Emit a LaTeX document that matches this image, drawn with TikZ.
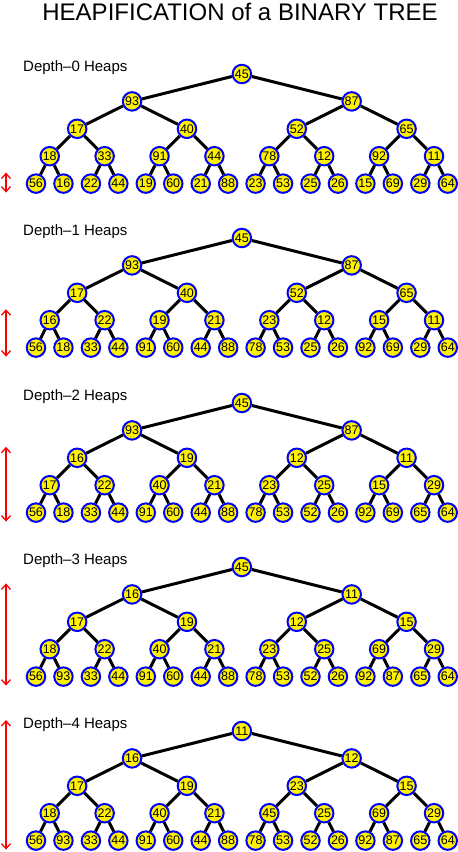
\documentclass[tikz,border=0pt]{standalone}
\usepackage{fontspec}
\setmainfont{Liberation Sans}
\usetikzlibrary{arrows.meta}

\tikzset{
    heapnode/.style={circle, draw=blue, fill=yellow, line width=2pt, minimum size=18.5pt, inner sep=0pt, font=\fontsize{12.5}{12.5}\selectfont},
    heapedge/.style={line width=3pt},
    depthlabel/.style={anchor=west, inner sep=0pt, font=\fontsize{15}{15}\selectfont},
    deptharrow/.style={red, line width=1.3pt, {Straight Barb[length=5pt,width=9pt]}-{Straight Barb[length=5pt,width=9pt]}}
}

% #1 depth, #2 y of the root, #3 keys in heap order
\newcommand{\heaptree}[3]{
    \node [depthlabel] (label#1) at (23,#2-6) {Depth–#1 Heaps};
    \foreach \v [count=\k] in {#3} {
        \pgfmathtruncatemacro\L{floor(ln(\k)/ln(2)+0.001)}
        \pgfmathsetmacro\xx{36+27.45*((\k-2^\L+0.5)*2^(4-\L)-0.5)}
        \node [heapnode] (t#1-\k) at (\xx,#2+27.4*\L) {\v};
        \ifnum\k>1
            \pgfmathtruncatemacro\q{\k/2}
            \draw [heapedge] (t#1-\q) -- (t#1-\k);
        \fi
    }
    \coordinate (top#1) at (6,#2+27.4*4-27.4*#1-11);
    \coordinate (bot#1) at (6,#2+27.4*4+9);
    \draw [deptharrow] (top#1) -- (bot#1);
}

\begin{document}
\begin{tikzpicture}[x=1pt, y=-1pt]
    \useasboundingbox (0,0) rectangle (458,852);

    \node [font=\fontsize{24}{24}\selectfont] (title) at (240,11.5) {HEAPIFICATION of a BINARY TREE};

    \heaptree{0}{74}{45,93,87,17,40,52,65,18,33,91,44,78,12,92,11,56,16,22,44,19,60,21,88,23,53,25,26,15,69,29,64}
    \heaptree{1}{238}{45,93,87,17,40,52,65,16,22,19,21,23,12,15,11,56,18,33,44,91,60,44,88,78,53,25,26,92,69,29,64}
    \heaptree{2}{403}{45,93,87,16,19,12,11,17,22,40,21,23,25,15,29,56,18,33,44,91,60,44,88,78,53,52,26,92,69,65,64}
    \heaptree{3}{567}{45,16,11,17,19,12,15,18,22,40,21,23,25,69,29,56,93,33,44,91,60,44,88,78,53,52,26,92,87,65,64}
    \heaptree{4}{731}{11,16,12,17,19,23,15,18,22,40,21,45,25,69,29,56,93,33,44,91,60,44,88,78,53,52,26,92,87,65,64}

\end{tikzpicture}
\end{document}
